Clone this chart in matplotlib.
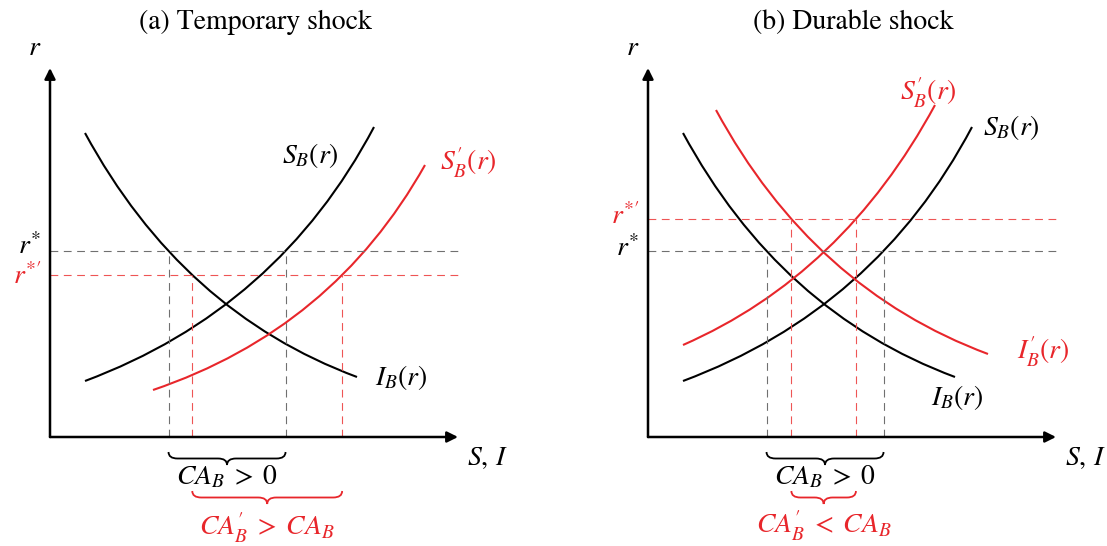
import numpy as np
import matplotlib.pyplot as plt
from matplotlib.path import Path
from matplotlib.patches import PathPatch

plt.rcParams['mathtext.fontset'] = 'stix'
plt.rcParams['font.family'] = 'STIXGeneral'

RED = '#e8262b'
RED_DASH = '#ee5555'
GRAY = '#707070'
FS = 20

# savings / investment schedules as quadratic Bezier curves: start, control, end
# (x = S or I, y = r)
s_b = [(35, 56), (228, 128), (324, 310)]
i_b = [(35, 304), (132, 125), (307, 60)]
s_b_temp = [(103, 47), (283, 108), (375, 272)]
s_b_dur = [(35, 92), (195, 162), (287, 332)]
i_b_dur = [(68, 327), (165, 148), (340, 83)]

# world interest rates
r_star = 186
r_star_temp = 162
r_star_dur = 218

x_max = 408
y_max = 369


def bezier_points(ctrl, n=2001):
    p0, p1, p2 = (np.array(c, dtype=float) for c in ctrl)
    t = np.linspace(0, 1, n)[:, None]
    return (1 - t) ** 2 * p0 + 2 * t * (1 - t) * p1 + t ** 2 * p2


def x_at(ctrl, level):
    pts = bezier_points(ctrl)
    x, y = pts[:, 0], pts[:, 1]
    if y[0] > y[-1]:
        x, y = x[::-1], y[::-1]
    return float(np.interp(level, y, x))


def draw_curve(ax, ctrl, color):
    path = Path(ctrl, [Path.MOVETO, Path.CURVE3, Path.CURVE3])
    ax.add_patch(PathPatch(path, fill=False, edgecolor=color, lw=1.5,
                           capstyle='butt'))


def brace(ax, x0, x1, y, color, h=13, r=9):
    xm = (x0 + x1) / 2
    yh = y - h / 2
    verts = [(x0, y), (x0, yh), (x0 + r, yh), (xm - r, yh), (xm, yh),
             (xm, y - h), (xm, yh), (xm + r, yh), (x1 - r, yh), (x1, yh),
             (x1, y)]
    codes = [Path.MOVETO, Path.CURVE3, Path.CURVE3, Path.LINETO,
             Path.CURVE3, Path.CURVE3, Path.CURVE3, Path.CURVE3,
             Path.LINETO, Path.CURVE3, Path.CURVE3]
    ax.add_patch(PathPatch(Path(verts, codes), fill=False, edgecolor=color,
                           lw=1.3))


def equilibrium(ax, r, xs, color):
    ax.plot([0, x_max], [r, r], color=color, lw=0.8, dashes=(7, 5))
    for x in xs:
        ax.plot([x, x], [0, r], color=color, lw=0.8, dashes=(7, 5))


def frame(ax, title):
    ax.axis('off')
    arrow = dict(arrowstyle='-|>', lw=1.8, color='black', mutation_scale=16,
                 shrinkA=0, shrinkB=0)
    ax.annotate('', xy=(0, y_max), xytext=(0, 0), arrowprops=arrow)
    ax.annotate('', xy=(x_max, 0), xytext=(0, 0), arrowprops=arrow)
    ax.text(205, 415, title, ha='center', va='center', fontsize=FS)
    ax.text(-15, 389, r'$r$', ha='center', va='center', fontsize=FS)
    ax.text(437, -21, r'$S,\,I$', ha='center', va='center', fontsize=FS)


fig = plt.figure(figsize=(11.07, 5.46), dpi=100)
ax_a = fig.add_axes([0, 0, 553 / 1107, 1])
ax_a.set_xlim(-50, 503)
ax_a.set_ylim(-109, 437)
ax_b = fig.add_axes([553 / 1107, 0, 554 / 1107, 1])
ax_b.set_xlim(-95, 459)
ax_b.set_ylim(-109, 437)

# (a) temporary shock: savings shift right, rate falls
frame(ax_a, '(a) Temporary shock')
xa0, xa1 = x_at(i_b, r_star), x_at(s_b, r_star)
xt0, xt1 = x_at(i_b, r_star_temp), x_at(s_b_temp, r_star_temp)
equilibrium(ax_a, r_star, [xa0, xa1], GRAY)
equilibrium(ax_a, r_star_temp, [xt0, xt1], RED_DASH)
draw_curve(ax_a, s_b, 'black')
draw_curve(ax_a, i_b, 'black')
draw_curve(ax_a, s_b_temp, RED)
ax_a.text(-9, r_star + 4, r'$r^{*}$', ha='right', va='center', fontsize=FS)
ax_a.text(-9, r_star_temp - 2, r'$r^{*\prime}$', ha='right', va='center',
          fontsize=FS, color=RED)
ax_a.text(260, 282, r'$S_B(r)$', ha='center', va='center', fontsize=FS)
ax_a.text(418, 274, r'$S_B^{\prime}(r)$', ha='center', va='center',
          fontsize=FS, color=RED)
ax_a.text(351, 60, r'$I_B(r)$', ha='center', va='center', fontsize=FS)
brace(ax_a, xa0, xa1, -15, 'black')
ax_a.text((xa0 + xa1) / 2, -40, r'$CA_B\;>\;0$', ha='center', va='center',
          fontsize=FS)
brace(ax_a, xt0, xt1, -54, RED)
ax_a.text((xt0 + xt1) / 2, -91, r'$CA_B^{\prime}\;>\;CA_B$', ha='center',
          va='center', fontsize=FS, color=RED)

# (b) durable shock: both schedules shift, rate rises
frame(ax_b, '(b) Durable shock')
xb0, xb1 = x_at(i_b, r_star), x_at(s_b, r_star)
xd0, xd1 = x_at(i_b_dur, r_star_dur), x_at(s_b_dur, r_star_dur)
equilibrium(ax_b, r_star, [xb0, xb1], GRAY)
equilibrium(ax_b, r_star_dur, [xd0, xd1], RED_DASH)
draw_curve(ax_b, s_b, 'black')
draw_curve(ax_b, i_b, 'black')
draw_curve(ax_b, s_b_dur, RED)
draw_curve(ax_b, i_b_dur, RED)
ax_b.text(-9, r_star + 2, r'$r^{*}$', ha='right', va='center', fontsize=FS)
ax_b.text(-9, r_star_dur + 2, r'$r^{*\prime}$', ha='right', va='center',
          fontsize=FS, color=RED)
ax_b.text(280, 344, r'$S_B^{\prime}(r)$', ha='center', va='center',
          fontsize=FS, color=RED)
ax_b.text(363, 310, r'$S_B(r)$', ha='center', va='center', fontsize=FS)
ax_b.text(395, 85, r'$I_B^{\prime}(r)$', ha='center', va='center',
          fontsize=FS, color=RED)
ax_b.text(309, 39, r'$I_B(r)$', ha='center', va='center', fontsize=FS)
brace(ax_b, xb0, xb1, -15, 'black')
ax_b.text((xb0 + xb1) / 2, -40, r'$CA_B\;>\;0$', ha='center', va='center',
          fontsize=FS)
brace(ax_b, xd0, xd1, -54, RED)
ax_b.text((xd0 + xd1) / 2, -89, r'$CA_B^{\prime}\;<\;CA_B$', ha='center',
          va='center', fontsize=FS, color=RED)

fig.savefig('out.png', dpi=100)
